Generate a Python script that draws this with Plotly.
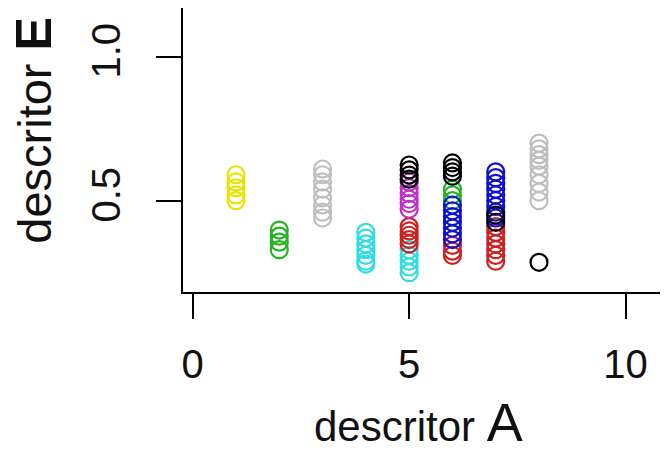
import plotly.graph_objects as go

# descritor A (x) and descritor E (y) values per colour group
gray_A = [3, 3, 3, 3, 3, 3, 3, 3, 8, 8, 8, 8, 8, 8, 8, 8, 8]
gray_E = [0.61, 0.59, 0.565, 0.54, 0.51, 0.485, 0.46, 0.44,
          0.70, 0.68, 0.66, 0.64, 0.62, 0.59, 0.56, 0.53, 0.50]
yellow_A = [1, 1, 1, 1, 1]
yellow_E = [0.59, 0.565, 0.545, 0.52, 0.50]
green_A = [2, 2, 2, 2, 6, 6, 6]
green_E = [0.398, 0.377, 0.356, 0.33, 0.54, 0.52, 0.50]
cyan_A = [4, 4, 4, 4, 4, 4, 4, 5, 5, 5, 5, 5]
cyan_E = [0.39, 0.37, 0.35, 0.33, 0.31, 0.29, 0.28, 0.33, 0.31, 0.29, 0.27, 0.25]
red_A = [5, 5, 5, 5, 5, 6, 6, 6, 7, 7, 7, 7, 7, 7, 7]
red_E = [0.41, 0.395, 0.38, 0.365, 0.35, 0.345, 0.325, 0.31,
         0.41, 0.39, 0.37, 0.35, 0.33, 0.31, 0.29]
magenta_A = [5, 5, 5, 5, 5, 5]
magenta_E = [0.565, 0.545, 0.525, 0.505, 0.49, 0.47]
blue_A = [6, 6, 6, 6, 6, 6, 6, 7, 7, 7, 7, 7, 7, 7, 7, 7]
blue_E = [0.485, 0.465, 0.445, 0.425, 0.405, 0.385, 0.365,
          0.60, 0.58, 0.56, 0.54, 0.52, 0.50, 0.48, 0.46, 0.44]
black_A = [5, 5, 5, 5, 6, 6, 6, 6, 7, 7, 8]
black_E = [0.624, 0.607, 0.589, 0.575, 0.631, 0.615, 0.600, 0.585, 0.45, 0.425, 0.286]

x_ticks = [0, 5, 10]
x_tick_labels = ["0", "5", "10"]
y_ticks = [0.5, 1.0]
y_tick_labels = ["0.5", "1.0"]

groups = [
    (gray_A, gray_E, "#BEBEBE"),
    (yellow_A, yellow_E, "#E8E400"),
    (green_A, green_E, "#22B422"),
    (cyan_A, cyan_E, "#30DDE0"),
    (red_A, red_E, "#CC2222"),
    (magenta_A, magenta_E, "#C030C8"),
    (blue_A, blue_E, "#1010D0"),
    (black_A, black_E, "#000000"),
]

fig = go.Figure()
for xs, ys, col in groups:
    fig.add_trace(go.Scatter(
        x=xs, y=ys, mode="markers",
        marker=dict(symbol="circle-open", size=17, color=col, line=dict(width=2.2, color=col)),
        showlegend=False, hoverinfo="skip", cliponaxis=False,
    ))

font_family = "Liberation Sans, Arial, sans-serif"
text_col = "#111111"
fig.update_layout(
    width=660, height=442,
    margin=dict(l=175, r=0, t=0, b=158, autoexpand=False),
    paper_bgcolor="white", plot_bgcolor="white",
    font=dict(family=font_family, color=text_col),
    xaxis=dict(
        range=[-0.224, 10.98], showgrid=False, zeroline=False, automargin=False,
        showline=True, linecolor="black", linewidth=2,
        ticks="outside", ticklen=25, tickwidth=2, tickcolor="black",
        tickvals=x_ticks, ticktext=x_tick_labels,
        tickfont=dict(size=40, family=font_family, color=text_col),
        ticklabelstandoff=11,
    ),
    yaxis=dict(
        range=[0.183, 1.169], showgrid=False, zeroline=False, automargin=False,
        showline=True, linecolor="black", linewidth=2,
        ticks="outside", ticklen=25, tickwidth=2, tickcolor="black",
        tickvals=y_ticks, ticktext=y_tick_labels, tickangle=-90,
        tickfont=dict(size=40, family=font_family, color=text_col),
        ticklabelstandoff=20,
    ),
    annotations=[
        dict(text="descritor <span style='font-size:54px'>A</span>",
             xref="paper", yref="paper", x=0.485, y=-0.458, xanchor="center", yanchor="middle",
             showarrow=False, font=dict(size=42, family=font_family, color=text_col)),
        dict(text="descritor <span style='font-size:50px'><b>E</b></span>",
             xref="paper", yref="paper", x=-0.306, y=0.570, xanchor="center", yanchor="middle",
             textangle=-90, showarrow=False, font=dict(size=47, family=font_family, color=text_col)),
    ],
)

fig.write_html("out.html")
